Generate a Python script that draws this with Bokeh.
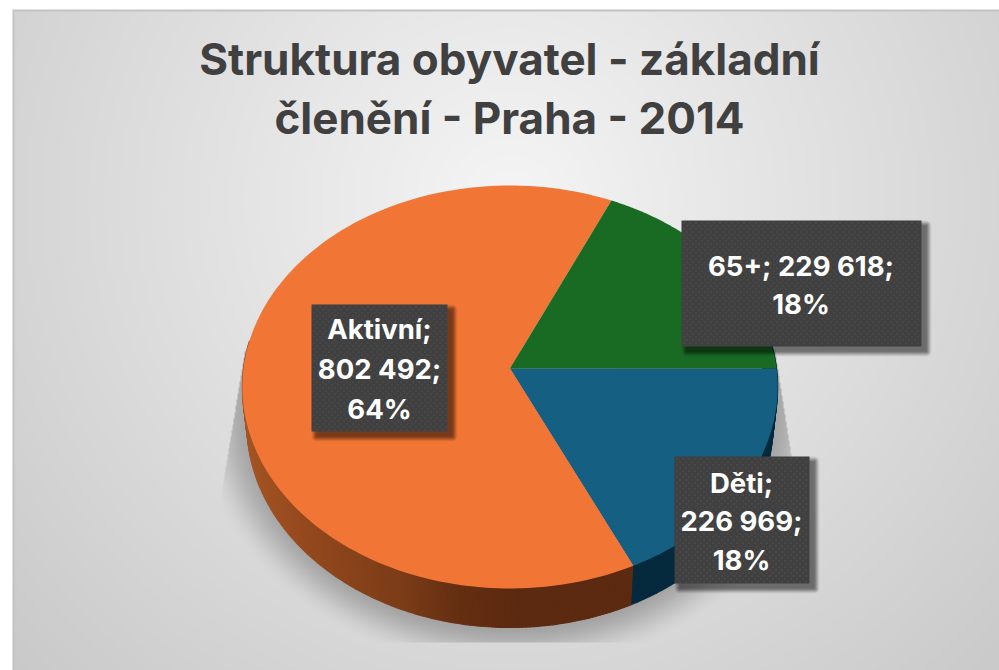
import numpy as np
from bokeh.plotting import figure
from bokeh.embed import file_html
from bokeh.resources import INLINE
from bokeh.core.properties import value
from bokeh.models import Range1d

title_lines = ["Struktura obyvatel - základní", "členění - Praha - 2014"]
categories = ["Děti", "Aktivní", "65+"]
values = [226969, 802492, 229618]
value_labels = ["226 969", "802 492", "229 618"]
percents = ["18%", "64%", "18%"]
colors = ["#156082", "#F17535", "#196B24"]
label_lines = [["Děti;", "226 969;", "18%"], ["Aktivní;", "802 492;", "64%"], ["65+; 229 618;", "18%"]]

PW, PH = 999, 670
W, H = 999, 670
OX, OY = 0, 0
FONT = "Inter"
CX = 509.5

p = figure(width=W, height=H, output_backend="svg", toolbar_location=None,
           x_range=Range1d(OX, OX + W), y_range=Range1d(PH - OY - H, PH - OY),
           min_border=0, outline_line_color=None, background_fill_color="white",
           border_fill_color="white")
p.xaxis.visible = False
p.yaxis.visible = False
p.grid.visible = False

def Y(py):
    return PH - np.asarray(py, dtype=float)

def put_image(rgba, x0, y0, x1, y1):
    img = np.flipud(rgba).copy()
    arr = img.astype(np.uint32)
    packed = arr[..., 0] | (arr[..., 1] << 8) | (arr[..., 2] << 16) | (arr[..., 3] << 24)
    p.image_rgba(image=[packed], x=x0, y=float(Y(y1)), dw=x1 - x0, dh=y1 - y0)

# background panel and the pie's floor shadow
x0, y0, x1, y1 = 12, 9, OX + W, OY + H
xx, yy = np.meshgrid(np.arange(x0, x1) + .5, np.arange(y0, y1) + .5)
d = np.hypot(xx - 510, yy - 200)
g = np.clip(245 - 0.064 * d, 0, 245)
r = np.hypot((xx - 510) / 288, (yy - 408) / 238)
t = np.clip((1.10 - r) / 0.20, 0, 1)
t = t * t * (3 - 2 * t)
clip = (yy > 350) & (yy < 642) & (xx > 243 - (yy - 360) * .165) & (xx < 773 + (yy - 340) * .155)
g = g * (1 - 0.26 * t * clip)
g[:2, :] = 195
g[:, :2] = 195
rgba = np.dstack([g, g, g, np.full_like(g, 255)]).astype(np.uint8)
put_image(rgba, x0, y0, x1, y1)

# perspective disc
K = 0.0917
def top(th):
    u, v = np.cos(th), np.sin(th)
    return CX + 266.5 * u / (1 - K * v), 368 + 199.8 * v / (1 - K * v)
def base(th):
    u, v = np.cos(th), np.sin(th)
    return CX + 262 * u / (1 - K * v), 405 + 201.6 * v / (1 - K * v)

fr = np.array(values, dtype=float) / sum(values)
edges = np.concatenate([[0], np.cumsum(fr)]) * 2 * np.pi

# side wall in thin strips
shade_x = [240, 300, 405, 457, 516, 640]
shade_r = [165, 150, 122, 101, 92, 92]
shade_g = [86, 74, 60, 47, 42, 42]
shade_b = [38, 30, 24, 18, 16, 16]
sx, sy, sc = [], [], []
a_edges = np.arange(-0.2, np.pi + 0.15, np.radians(0.75))
for a, b in zip(a_edges[:-1], a_edges[1:]):
    ths = np.array([a, b])
    tx, ty = top(ths)
    bx, by = base(ths[::-1])
    sx.append(list(tx) + list(bx))
    sy.append(list(Y(ty)) + list(Y(by)))
    mid = (a + b) / 2
    if mid < edges[1]:
        sc.append("#062A3D")
    else:
        mx = top(mid)[0]
        c = [int(np.interp(mx, shade_x, s)) for s in (shade_r, shade_g, shade_b)]
        sc.append("#%02x%02x%02x" % tuple(c))
p.patches(sx, sy, fill_color=sc, line_color=sc, line_width=1.2)

# top face
wx, wy = [], []
for a, b in zip(edges[:-1], edges[1:]):
    ths = np.linspace(a, b, 160)
    tx, ty = top(ths)
    wx.append([CX] + list(tx))
    wy.append(list(Y([368.0])) + list(Y(ty)))
p.patches(wx, wy, fill_color=colors, line_color=None)

# labels
boxes = [(674, 456, 809, 583), (311, 304, 447, 431), (681, 220, 921, 346)]
line_ys = [[482, 520, 559], [328, 368, 408], [265, 303]]
cx = [741, 379, 800.5]

yy2, xx2 = np.mgrid[0:PH, 0:PW]
xp, yp = xx2 + .5, yy2 + .5
sh = np.zeros((PH, PW))
for (a, b, c, e) in boxes:
    dx = np.maximum(np.maximum(a + 5 - xp, xp - (c + 5)), 0)
    dy = np.maximum(np.maximum(b + 5 - yp, yp - (e + 5)), 0)
    dist = np.hypot(dx, dy)
    sh = np.maximum(sh, np.clip(1 - dist / 5, 0, 1) * .5)
sh_img = np.dstack([np.zeros_like(sh)] * 3 + [sh * 255]).astype(np.uint8)
put_image(sh_img, 0, 0, PW, PH)

p.quad(left=[b[0] for b in boxes], right=[b[2] for b in boxes],
       top=list(Y([b[1] for b in boxes])), bottom=list(Y([b[3] for b in boxes])),
       fill_color="#404040", line_color=None)

dots = np.zeros((PH, PW), dtype=float)
for (a, b, c, e) in boxes:
    for j, row in enumerate(range(b + 2, e - 1, 3)):
        for col in range(a + 2 + (j % 2) * 3, c - 1, 6):
            dots[row, col] = 0.16
dot_img = np.dstack([np.full_like(dots, 255)] * 3 + [dots * 255]).astype(np.uint8)
put_image(dot_img, 0, 0, PW, PH)

tx, ty, tt = [], [], []
for c, ys, ls in zip(cx, line_ys, label_lines):
    for yv, s in zip(ys, ls):
        tx.append(c); ty.append(float(Y(yv))); tt.append(s)
p.text(tx, ty, text=tt, text_color="white", text_font=value(FONT), text_font_style="bold",
       text_font_size="27.5px", text_align="center", text_baseline="middle")

p.text([509, 509], list(Y([58, 117])), text=title_lines, text_color="#404040",
       text_font=value(FONT), text_font_style="bold", text_font_size="44px",
       text_align="center", text_baseline="middle")

open("out.html", "w").write(file_html(p, INLINE))
